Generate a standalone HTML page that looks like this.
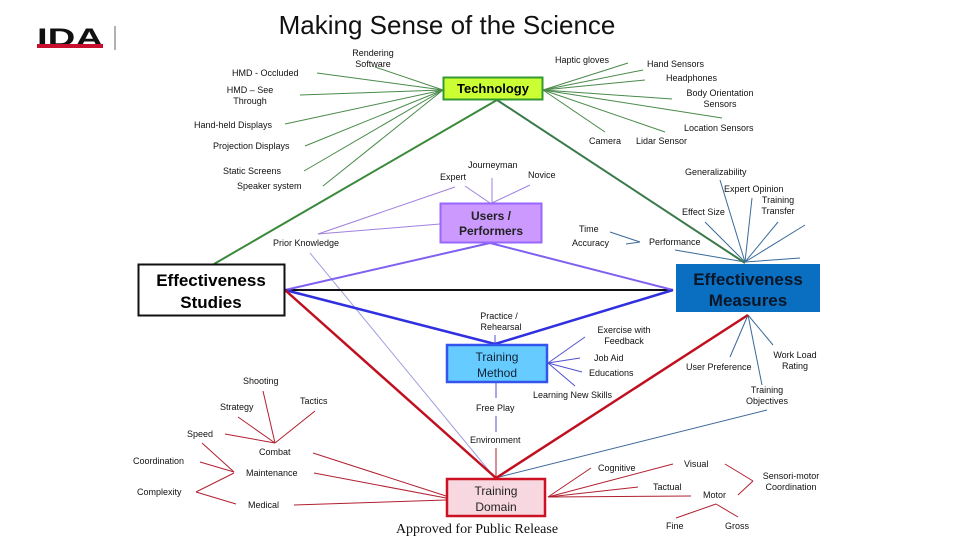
<!DOCTYPE html>
<html><head><meta charset="utf-8"><style>
html,body{margin:0;padding:0;background:#fff;}
svg{display:block;font-family:"Liberation Sans",sans-serif;}
.s{font-size:9px;fill:#111;}
</style></head><body>
<svg width="956" height="537" viewBox="0 0 956 537" xmlns="http://www.w3.org/2000/svg">
<text x="37" y="46" font-size="25" font-weight="bold" fill="#111" textLength="66" lengthAdjust="spacingAndGlyphs">IDA</text>
<rect x="37" y="44" width="66" height="4" fill="#c8102e"/>
<line x1="115" y1="26" x2="115" y2="50" stroke="#999" stroke-width="1.5"/>
<text x="447" y="34" font-size="26" text-anchor="middle" fill="#111">Making Sense of the Science</text>

<g fill="none" stroke-width="1">
<g stroke="#4a8a4a">
<line x1="443" y1="90" x2="317" y2="73"/><line x1="443" y1="90" x2="300" y2="95"/>
<line x1="443" y1="90" x2="285" y2="124"/><line x1="443" y1="90" x2="305" y2="146"/>
<line x1="443" y1="90" x2="304" y2="171"/><line x1="443" y1="90" x2="323" y2="186"/>
<line x1="443" y1="90" x2="375" y2="67"/>
<line x1="543" y1="90" x2="628" y2="63"/><line x1="543" y1="90" x2="643" y2="70"/>
<line x1="543" y1="90" x2="645" y2="80"/><line x1="543" y1="90" x2="672" y2="99"/>
<line x1="543" y1="90" x2="722" y2="118"/><line x1="543" y1="90" x2="665" y2="132"/>
<line x1="543" y1="90" x2="605" y2="132"/>
</g>
<g stroke="#3a6a9a">
<line x1="745" y1="262" x2="720" y2="180"/><line x1="745" y1="262" x2="752" y2="198"/>
<line x1="745" y1="262" x2="705" y2="222"/><line x1="745" y1="262" x2="778" y2="222"/>
<line x1="745" y1="262" x2="805" y2="225"/><line x1="745" y1="262" x2="675" y2="250"/>
<line x1="745" y1="262" x2="800" y2="258"/>
<line x1="748" y1="315" x2="730" y2="357"/><line x1="748" y1="315" x2="773" y2="345"/>
<line x1="748" y1="315" x2="762" y2="385"/>
<line x1="767" y1="410" x2="499" y2="477"/>
<line x1="610" y1="232" x2="640" y2="242"/><line x1="626" y1="244" x2="640" y2="242"/>
</g>
<g stroke="#a080e0">
<line x1="490" y1="203" x2="465" y2="186"/><line x1="492" y1="203" x2="492" y2="178"/>
<line x1="492" y1="203" x2="530" y2="185"/>
<line x1="455" y1="187" x2="318" y2="234"/><line x1="440" y1="224" x2="318" y2="234"/>
<line x1="310" y1="253" x2="495" y2="478" stroke="#a0a0e0"/>
</g>
<g stroke="#5050d0">
<line x1="548" y1="363" x2="585" y2="337"/><line x1="548" y1="363" x2="580" y2="358"/>
<line x1="548" y1="363" x2="582" y2="372"/><line x1="548" y1="363" x2="575" y2="386"/>
<line x1="495" y1="344" x2="495" y2="335"/><line x1="496" y1="383" x2="496" y2="398"/>
<line x1="496" y1="416" x2="496" y2="432"/>
</g>
<g stroke="#b02030">
<line x1="496" y1="448" x2="496" y2="478"/>
<line x1="313" y1="453" x2="446" y2="496"/><line x1="314" y1="473" x2="446" y2="498"/>
<line x1="294" y1="505" x2="446" y2="500"/>
<line x1="275" y1="443" x2="238" y2="417"/><line x1="275" y1="443" x2="263" y2="391"/>
<line x1="275" y1="443" x2="315" y2="411"/><line x1="275" y1="443" x2="225" y2="434"/>
<line x1="202" y1="443" x2="234" y2="472"/><line x1="200" y1="462" x2="234" y2="472"/>
<line x1="196" y1="492" x2="234" y2="473"/><line x1="196" y1="492" x2="236" y2="504"/>
<line x1="548" y1="497" x2="591" y2="468"/><line x1="548" y1="497" x2="673" y2="464"/>
<line x1="548" y1="497" x2="638" y2="487"/><line x1="548" y1="497" x2="691" y2="496"/>
<line x1="725" y1="464" x2="753" y2="481"/><line x1="753" y1="481" x2="738" y2="495"/>
<line x1="676" y1="518" x2="716" y2="504"/><line x1="716" y1="504" x2="738" y2="517"/>
</g>
<line x1="497" y1="100" x2="214" y2="264" stroke="#3a8a3a" stroke-width="2"/>
<line x1="497" y1="100" x2="745" y2="263" stroke="#3a7a4a" stroke-width="2"/>
<line x1="285" y1="290" x2="673" y2="290" stroke="#111" stroke-width="2"/>
<line x1="490" y1="243" x2="285" y2="290" stroke="#8060f0" stroke-width="2"/>
<line x1="490" y1="243" x2="673" y2="290" stroke="#8060f0" stroke-width="2"/>
<line x1="285" y1="290" x2="495" y2="344" stroke="#3030e0" stroke-width="2.5"/>
<line x1="495" y1="344" x2="673" y2="290" stroke="#3030e0" stroke-width="2.5"/>
<line x1="285" y1="290" x2="496" y2="478" stroke="#c01020" stroke-width="2.5"/>
<line x1="496" y1="478" x2="748" y2="315" stroke="#c01020" stroke-width="2.5"/>
</g>

<rect x="443.5" y="77.5" width="99" height="22" fill="#ccff33" stroke="#339933" stroke-width="2"/>
<text x="493" y="93" font-size="13" font-weight="bold" text-anchor="middle">Technology</text>
<rect x="440.5" y="203.5" width="101" height="39" fill="#cc99ff" stroke="#9966ff" stroke-width="2"/>
<text x="491" y="220" font-size="12" font-weight="bold" text-anchor="middle" fill="#222">Users /</text>
<text x="491" y="235" font-size="12" font-weight="bold" text-anchor="middle" fill="#222">Performers</text>
<rect x="138.5" y="264.5" width="146" height="51" fill="#fff" stroke="#111" stroke-width="2"/>
<text x="211" y="286" font-size="17" font-weight="bold" text-anchor="middle">Effectiveness</text>
<text x="211" y="308" font-size="17" font-weight="bold" text-anchor="middle">Studies</text>
<rect x="676" y="264" width="144" height="48" fill="#0a6fc0"/>
<text x="748" y="285" font-size="17" font-weight="bold" text-anchor="middle" fill="#0a1628">Effectiveness</text>
<text x="748" y="306" font-size="17" font-weight="bold" text-anchor="middle" fill="#0a1628">Measures</text>
<rect x="447" y="345" width="100" height="37" fill="#66ccff" stroke="#3355ee" stroke-width="2.5"/>
<text x="497" y="361" font-size="12" text-anchor="middle" fill="#123">Training</text>
<text x="497" y="377" font-size="12" text-anchor="middle" fill="#123">Method</text>
<rect x="447" y="479" width="98" height="37" fill="#f8d8e0" stroke="#cc1122" stroke-width="2.5"/>
<text x="496" y="495" font-size="12" text-anchor="middle" fill="#222">Training</text>
<text x="496" y="511" font-size="12" text-anchor="middle" fill="#222">Domain</text>

<g class="s">
<text x="373" y="56" text-anchor="middle">Rendering</text><text x="373" y="67" text-anchor="middle">Software</text>
<text x="232" y="76">HMD - Occluded</text>
<text x="250" y="93" text-anchor="middle">HMD – See</text><text x="250" y="104" text-anchor="middle">Through</text>
<text x="194" y="128">Hand-held  Displays</text>
<text x="213" y="149">Projection Displays</text>
<text x="223" y="174">Static Screens</text>
<text x="237" y="189">Speaker system</text>
<text x="555" y="63">Haptic gloves</text>
<text x="647" y="67">Hand Sensors</text>
<text x="666" y="81">Headphones</text>
<text x="720" y="96" text-anchor="middle">Body Orientation</text><text x="720" y="107" text-anchor="middle">Sensors</text>
<text x="684" y="131">Location Sensors</text>
<text x="589" y="144">Camera</text>
<text x="636" y="144">Lidar Sensor</text>
<text x="468" y="168">Journeyman</text>
<text x="440" y="180">Expert</text>
<text x="528" y="178">Novice</text>
<text x="273" y="246">Prior Knowledge</text>
<text x="579" y="232">Time</text>
<text x="572" y="246">Accuracy</text>
<text x="649" y="245">Performance</text>
<text x="685" y="175">Generalizability</text>
<text x="724" y="192">Expert Opinion</text>
<text x="778" y="203" text-anchor="middle">Training</text><text x="778" y="214" text-anchor="middle">Transfer</text>
<text x="682" y="215">Effect Size</text>
<text x="499" y="319" text-anchor="middle">Practice /</text><text x="501" y="330" text-anchor="middle">Rehearsal</text>
<text x="624" y="333" text-anchor="middle">Exercise with</text><text x="624" y="344" text-anchor="middle">Feedback</text>
<text x="594" y="361">Job Aid</text>
<text x="589" y="376">Educations</text>
<text x="533" y="398">Learning New Skills</text>
<text x="476" y="411">Free Play</text>
<text x="470" y="443">Environment</text>
<text x="686" y="370">User Preference</text>
<text x="795" y="358" text-anchor="middle">Work Load</text><text x="795" y="369" text-anchor="middle">Rating</text>
<text x="767" y="393" text-anchor="middle">Training</text><text x="767" y="404" text-anchor="middle">Objectives</text>
<text x="243" y="384">Shooting</text>
<text x="220" y="410">Strategy</text>
<text x="300" y="404">Tactics</text>
<text x="187" y="437">Speed</text>
<text x="259" y="455">Combat</text>
<text x="133" y="464">Coordination</text>
<text x="246" y="476">Maintenance</text>
<text x="137" y="495">Complexity</text>
<text x="248" y="508">Medical</text>
<text x="598" y="471">Cognitive</text>
<text x="684" y="467">Visual</text>
<text x="653" y="490">Tactual</text>
<text x="703" y="498">Motor</text>
<text x="791" y="479" text-anchor="middle">Sensori-motor</text><text x="791" y="490" text-anchor="middle">Coordination</text>
<text x="666" y="529">Fine</text>
<text x="725" y="529">Gross</text>
</g>
<text x="477" y="533" font-family="Liberation Serif,serif" font-size="14" text-anchor="middle" fill="#111">Approved for Public Release</text>
</svg>
</body></html>
